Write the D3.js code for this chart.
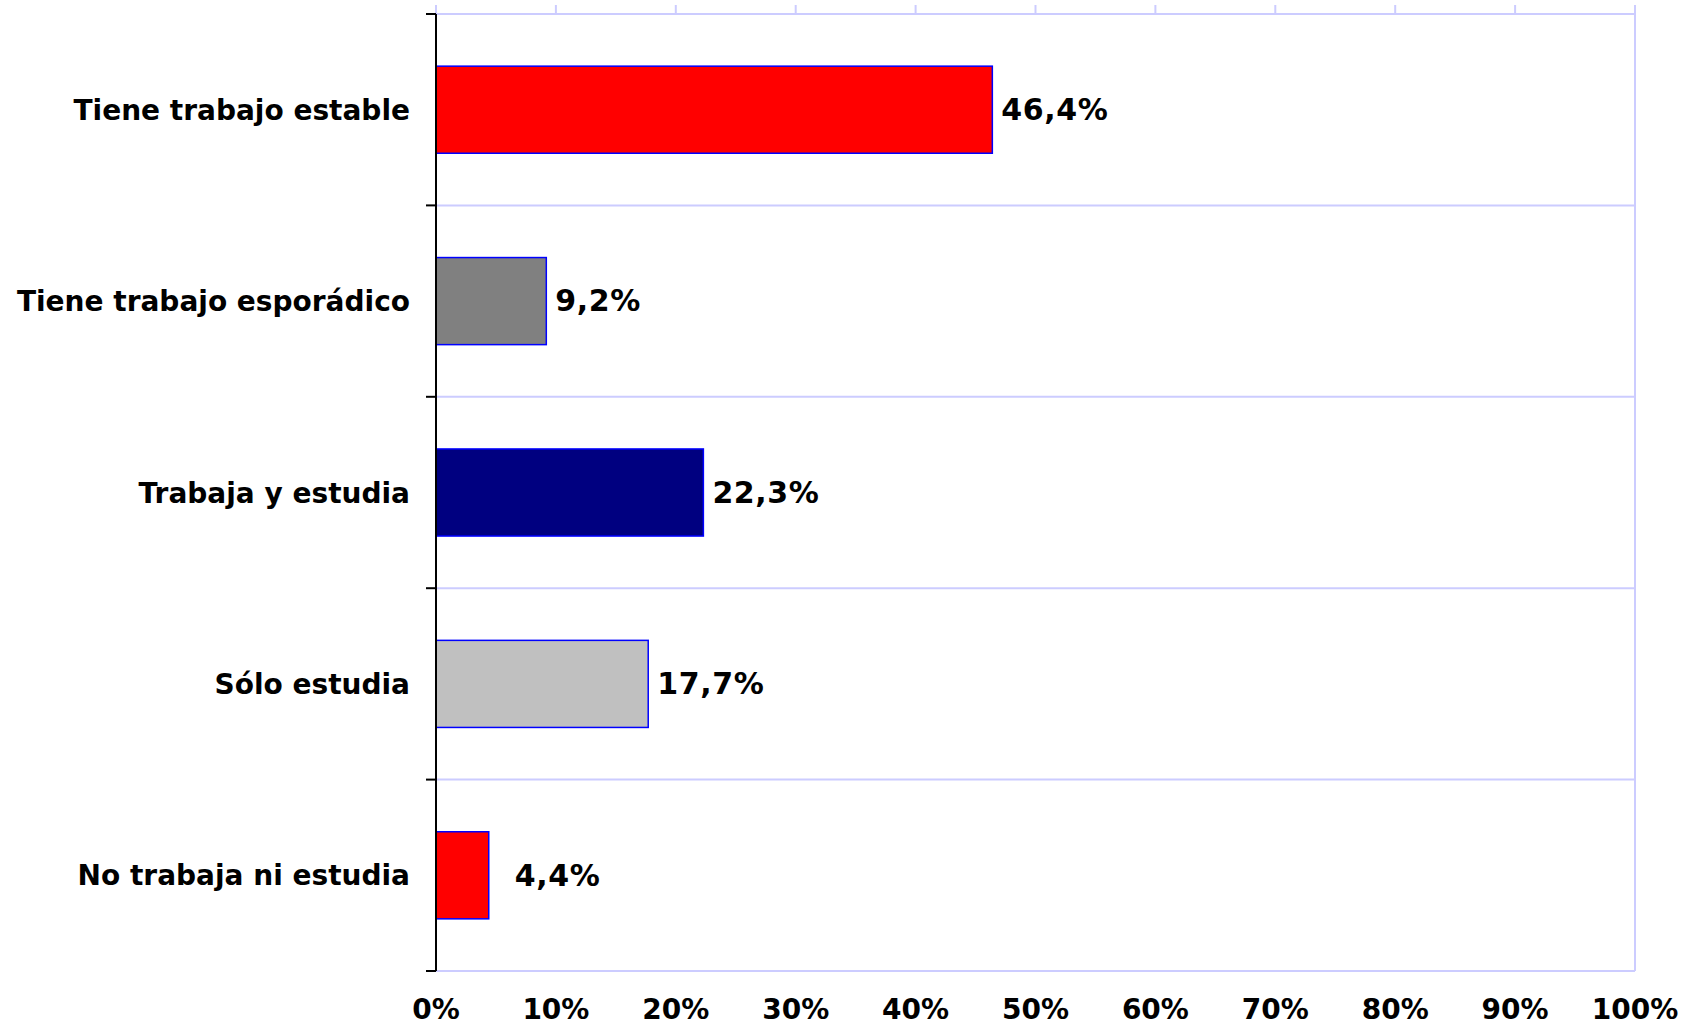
<!DOCTYPE html>
<html>
<head>
<meta charset="utf-8">
<script src="https://cdn.jsdelivr.net/npm/d3@7"></script>
<style>
  html, body { margin: 0; padding: 0; background: #fff; }
  svg { display: block; font-family: "DejaVu Sans", Verdana, sans-serif; font-weight: bold; }
</style>
</head>
<body>
<div id="chart"></div>
<script>
// categories top to bottom, share of respondents (%)
const CATEGORIES = ["Tiene trabajo estable", "Tiene trabajo esporádico", "Trabaja y estudia", "Sólo estudia", "No trabaja ni estudia"];
const VALUES = [46.4, 9.2, 22.3, 17.7, 4.4];
const VALUE_LABELS = ["46,4%", "9,2%", "22,3%", "17,7%", "4,4%"];
const BAR_COLORS = ["#ff0000", "#808080", "#000080", "#c0c0c0", "#ff0000"];
const X_TICKS = [0, 10, 20, 30, 40, 50, 60, 70, 80, 90, 100];

const VW = 1694, VH = 1025;
const m = { l: 436, r: 59, t: 14, b: 54 };
const W = VW - m.l - m.r, H = VH - m.t - m.b;
const GRID = "#ccccff";

const svg = d3.select("#chart").append("svg").attr("width", VW).attr("height", VH);
const g = svg.append("g").attr("transform", `translate(${m.l},${m.t})`);

const x = d3.scaleLinear().domain([0, 100]).range([0, W]);
const y = d3.scaleBand().domain(CATEGORIES).range([0, H]).paddingInner(0.545).paddingOuter(0.2725);
const band = d3.scaleBand().domain(CATEGORIES).range([0, H]);

// horizontal separators between categories
const bounds = CATEGORIES.map(c => band(c)).concat([H]);
g.selectAll("line.sep").data(bounds).enter().append("line")
  .attr("x1", 0).attr("x2", W).attr("y1", d => d).attr("y2", d => d)
  .attr("stroke", GRID).attr("stroke-width", 2);

// right border
g.append("line").attr("x1", W).attr("x2", W).attr("y1", -9).attr("y2", H)
  .attr("stroke", GRID).attr("stroke-width", 2);

// top ticks
g.selectAll("line.tt").data(X_TICKS).enter().append("line")
  .attr("x1", d => x(d)).attr("x2", d => x(d)).attr("y1", -9).attr("y2", 0)
  .attr("stroke", GRID).attr("stroke-width", 2);

// bars
g.selectAll("rect.bar").data(CATEGORIES).enter().append("rect")
  .attr("x", 0).attr("y", c => y(c))
  .attr("width", (c, i) => x(VALUES[i])).attr("height", y.bandwidth())
  .attr("fill", (c, i) => BAR_COLORS[i])
  .attr("stroke", "#0000ff").attr("stroke-width", 1.5);

// value labels
g.selectAll("text.val").data(CATEGORIES).enter().append("text")
  .attr("x", (c, i) => x(VALUES[i]) + (VALUES[i] < 5 ? 26 : 9))
  .attr("y", c => y(c) + y.bandwidth() / 2)
  .attr("dy", "0.34em").style("font-size", "30px").style("letter-spacing", "0.6px").style("fill", "#000")
  .text((c, i) => VALUE_LABELS[i]);

// left axis
g.append("line").attr("x1", 0).attr("x2", 0).attr("y1", 0).attr("y2", H)
  .attr("stroke", "#000").attr("stroke-width", 2);
g.selectAll("line.lt").data(bounds).enter().append("line")
  .attr("x1", -10).attr("x2", 0).attr("y1", d => d).attr("y2", d => d)
  .attr("stroke", "#000").attr("stroke-width", 2);

// category labels
g.selectAll("text.cat").data(CATEGORIES).enter().append("text")
  .attr("x", -26).attr("y", c => band(c) + band.bandwidth() / 2)
  .attr("dy", "0.36em").attr("text-anchor", "end")
  .style("font-size", "28px").style("fill", "#000")
  .text(c => c);

// bottom tick labels
g.selectAll("text.xt").data(X_TICKS).enter().append("text")
  .attr("x", d => x(d)).attr("y", H + 48)
  .attr("text-anchor", "middle").style("font-size", "28px").style("fill", "#000")
  .text(d => d + "%");
</script>
</body>
</html>
